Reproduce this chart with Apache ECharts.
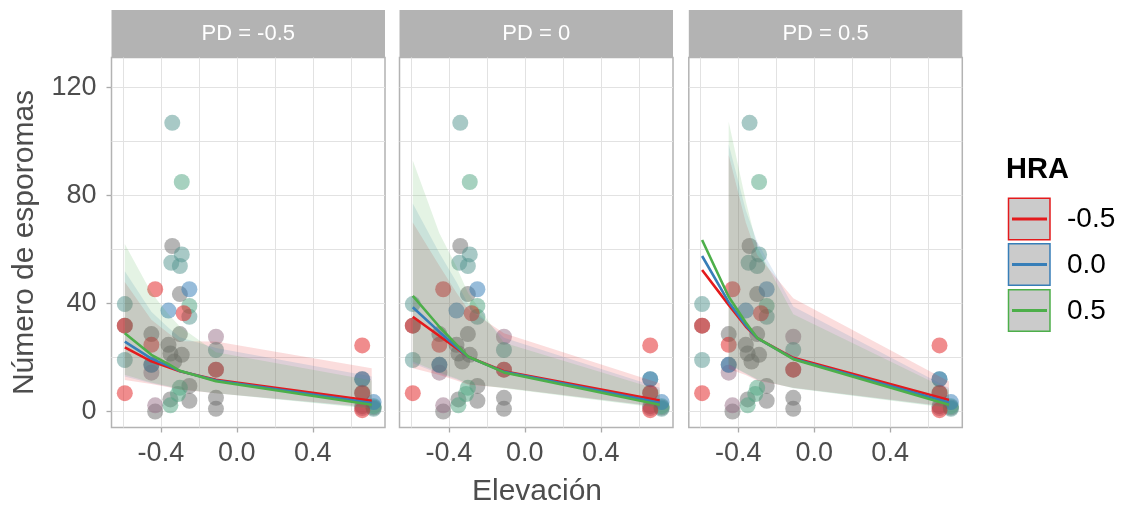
<!DOCTYPE html>
<html>
<head>
<meta charset="utf-8">
<script src="https://cdn.jsdelivr.net/npm/echarts@6/dist/echarts.min.js"></script>
<style>
html, body { margin: 0; padding: 0; background: #fff; }
#main { width: 1123px; height: 508px; }
</style>
</head>
<body>
<div id="main"></div>
<script>
var panels = ['PD = -0.5', 'PD = 0', 'PD = 0.5'];
var hraLevels = ['-0.5', '0.0', '0.5'];
var hraColors = ['#e41a1c', '#377eb8', '#4daf4a'];

var xTicks = [-0.4, 0.0, 0.4];
var xGridVals = [-0.6, -0.4, -0.2, 0, 0.2, 0.4, 0.6];
var yTicks = [0, 40, 80, 120];
var yGridVals = [0, 20, 40, 60, 80, 100, 120];

// raw observations (same in every panel), grouped by colour
var ptsRed = [[-0.59, 31.8], [-0.59, 6.8], [-0.45, 24.7], [-0.43, 45.3], [-0.28, 36.4], [-0.11, 15.5], [0.66, 24.5], [0.66, 6.8], [0.66, 0.5]];
var ptsBlue = [[-0.45, 17.3], [-0.36, 37.4], [-0.25, 45.3], [0.66, 12.0], [0.72, 3.5]];
var ptsTeal = [[-0.59, 39.8], [-0.59, 19.1], [-0.34, 106.9], [-0.29, 58.2], [-0.345, 55.1], [-0.30, 53.9], [-0.25, 35.1], [-0.11, 22.8], [0.66, 12.0], [0.72, 1.0]];
var ptsGreen = [[-0.29, 85.0], [-0.25, 39.1], [-0.30, 8.8], [-0.31, 6.5], [-0.35, 2.3], [0.72, 2.0]];
var ptsGray = [[-0.59, 31.8], [-0.45, 28.7], [-0.45, 17.3], [-0.43, 0.0], [-0.34, 61.3], [-0.36, 24.7], [-0.35, 21.5], [-0.33, 18.5], [-0.30, 43.5], [-0.30, 28.7], [-0.29, 21.0], [-0.25, 9.5], [-0.25, 4.0], [-0.35, 4.5], [-0.11, 5.1], [-0.11, 1.0], [0.66, 7.0], [0.66, 2.0], [0.72, 1.5]];
var ptsMauve = [[-0.45, 14.4], [-0.43, 2.3], [-0.11, 27.7], [-0.11, 15.5], [0.66, 1.3]];

// predicted values at these elevations
var fitX = [-0.59, -0.45, -0.36, -0.30, -0.11, 0.71];

// PD = -0.5 : rows are HRA -0.5, 0.0, 0.5
var fitPD1 = [[23.8, 18.6, 16.4, 14.9, 11.8, 4.0], [25.9, 19.6, 16.9, 15.0, 11.5, 3.2], [29.0, 21.0, 17.6, 15.1, 11.2, 2.5]];
var loPD1 = [[11.7, 10.2, 9.0, 8.2, 6.8, 1.6], [13.0, 10.5, 9.2, 8.3, 6.8, 1.3], [13.6, 10.8, 9.4, 8.4, 6.8, 1.0]];
var hiPD1 = [[48, 34, 29, 26, 25.9, 16], [52, 37, 31, 27.5, 23.5, 13], [62, 44, 36, 31.5, 22, 11.5]];

// PD = 0
var fitPD2 = [[35.1, 28.0, 23.5, 20.3, 14.9, 4.1], [38.6, 29.5, 24.0, 20.3, 14.7, 3.3], [42.8, 31.4, 24.8, 20.4, 14.5, 2.5]];
var loPD2 = [[16, 13.5, 11.5, 10, 8.8, 1.8], [17.9, 14, 12, 10.2, 8.8, 1.6], [18.5, 14.5, 12.2, 10.3, 8.6, 1.3]];
var hiPD2 = [[70, 54, 44, 38, 29, 10.5], [77, 58.7, 48, 40, 27.3, 8.8], [93, 66, 53.6, 44, 25.5, 8]];

// PD = 0.5 (band starts at -0.45)
var fitPD3 = [[52.4, 39.5, 31.5, 27.2, 19.9, 4.3], [57.6, 40.5, 32.0, 27.2, 19.6, 3.4], [63.5, 42.5, 33.0, 27.3, 19.4, 2.5]];
var loPD3 = [[null, 15.8, 13.5, 11.5, 8.8, 1.8], [null, 17.3, 14, 11.8, 8.7, 1.6], [null, 17.5, 14.2, 12, 8.6, 1.3]];
var hiPD3 = [[null, 95, 70, 58, 42, 11.1], [null, 99, 74.5, 62.9, 38.9, 8.7], [null, 107.3, 78, 61, 36, 8]];

var fits = [fitPD1, fitPD2, fitPD3];
var lows = [loPD1, loPD2, loPD3];
var highs = [hiPD1, hiPD2, hiPD3];

var FONT = 'Liberation Sans, Arial, sans-serif';
var panelLeft = [111.5, 399.5, 688.8];
var panelW = 273.5;
var panelTop = 57.5;
var panelH = 370;

function rgba(hex, a) {
    var r = parseInt(hex.substr(1, 2), 16);
    var g = parseInt(hex.substr(3, 2), 16);
    var b = parseInt(hex.substr(5, 2), 16);
    return 'rgba(' + r + ',' + g + ',' + b + ',' + a + ')';
}

var grids = [], xAxes = [], yAxes = [], series = [], graphics = [];

for (var p = 0; p < 3; p++) {
    grids.push({
        left: panelLeft[p], top: panelTop, width: panelW, height: panelH,
        show: true, borderColor: '#b3b3b3', borderWidth: 1.5, backgroundColor: '#fff'
    });
    // axis for grid lines
    xAxes.push({
        type: 'value', gridIndex: p, min: -0.66, max: 0.78, position: 'bottom',
        axisLine: { show: false, onZero: false }, axisLabel: { show: false },
        axisTick: { show: false, customValues: xGridVals },
        splitLine: { show: true, lineStyle: { color: '#e2e2e2', width: 1 } }
    });
    // axis for ticks + labels
    xAxes.push({
        type: 'value', gridIndex: p, min: -0.66, max: 0.78, position: 'bottom',
        axisLine: { show: false, onZero: false },
        axisTick: { show: true, length: 5, customValues: xTicks, lineStyle: { color: '#aaaaaa', width: 1.3 } },
        axisLabel: {
            show: true, customValues: xTicks, margin: 13, fontSize: 27, color: '#4d4d4d', fontFamily: FONT,
            formatter: function (v) { return v.toFixed(1); }
        },
        splitLine: { show: false }
    });
    yAxes.push({
        type: 'value', gridIndex: p, min: -5.9, max: 131.1, position: 'left',
        axisLine: { show: false, onZero: false }, axisLabel: { show: false },
        axisTick: { show: false, customValues: yGridVals },
        splitLine: { show: true, lineStyle: { color: '#e2e2e2', width: 1 } }
    });

    // strip
    graphics.push({
        type: 'rect', left: panelLeft[p], top: 10, shape: { width: panelW, height: 47.5 },
        style: { fill: '#b3b3b3' }
    });
    graphics.push({
        type: 'text', x: panelLeft[p] + panelW / 2, y: 34,
        style: { text: panels[p], fill: '#ffffff', font: '22px ' + FONT, textAlign: 'center', textVerticalAlign: 'middle' }
    });
}

// y labels only on the first panel
yAxes.push({
    type: 'value', gridIndex: 0, min: -5.9, max: 131.1, position: 'left',
    axisLine: { show: false, onZero: false },
    axisTick: { show: true, length: 5, customValues: yTicks, lineStyle: { color: '#aaaaaa', width: 1.3 } },
    axisLabel: { show: true, customValues: yTicks, margin: 15, fontSize: 27, color: '#4d4d4d', fontFamily: FONT },
    splitLine: { show: false }
});

function ribbon(p, h) {
    var rows = [];
    for (var i = 0; i < fitX.length; i++) {
        if (lows[p][h][i] != null) rows.push([fitX[i], lows[p][h][i], highs[p][h][i]]);
    }
    return {
        type: 'custom', xAxisIndex: p * 2, yAxisIndex: p, data: rows, silent: true, z: 3,
        encode: { x: 0, y: [1, 2] },
        renderItem: function (params, api) {
            if (params.dataIndex !== 0) return;
            var pts = [];
            for (var i = 0; i < rows.length; i++) pts.push(api.coord([rows[i][0], rows[i][2]]));
            for (var j = rows.length - 1; j >= 0; j--) pts.push(api.coord([rows[j][0], rows[j][1]]));
            return { type: 'polygon', shape: { points: pts }, style: { fill: rgba(hraColors[h], 0.15) } };
        }
    };
}

var pointGroups = [
    [ptsGray, '#6b6b6b'],
    [ptsMauve, '#977088'],
    [ptsTeal, '#51938d'],
    [ptsGreen, '#4da37f'],
    [ptsBlue, '#2f7ab5'],
    [ptsRed, '#e11a1c']
];

for (var p = 0; p < 3; p++) {
    for (var g = 0; g < pointGroups.length; g++) {
        series.push({
            type: 'scatter', xAxisIndex: p * 2, yAxisIndex: p, data: pointGroups[g][0],
            symbol: 'circle', symbolSize: 16, silent: true, z: 2,
            itemStyle: { color: pointGroups[g][1], opacity: 0.5 }
        });
    }
    for (var h = 0; h < 3; h++) series.push(ribbon(p, h));
    for (var h = 0; h < 3; h++) {
        var line = [];
        for (var i = 0; i < fitX.length; i++) line.push([fitX[i], fits[p][h][i]]);
        series.push({
            type: 'line', xAxisIndex: p * 2, yAxisIndex: p, data: line, showSymbol: false, silent: true, z: 4,
            lineStyle: { color: hraColors[h], width: 2.6 }
        });
    }
}

// axis titles
graphics.push({
    type: 'text', x: 537, y: 492,
    style: { text: 'Elevación', fill: '#4d4d4d', font: '30px ' + FONT, textAlign: 'center', textVerticalAlign: 'middle' }
});
graphics.push({
    type: 'text', x: 25, y: 242.5, rotation: Math.PI / 2,
    style: { text: 'Número de esporomas', fill: '#4d4d4d', font: '30px ' + FONT, textAlign: 'center', textVerticalAlign: 'middle' }
});

// legend
graphics.push({
    type: 'text', x: 1006, y: 170,
    style: { text: 'HRA', fill: '#000', font: 'bold 29px ' + FONT, textAlign: 'left', textVerticalAlign: 'middle' }
});
var keyTop = [197.5, 243, 289];
for (var h = 0; h < 3; h++) {
    graphics.push({
        type: 'rect', shape: { x: 1008.5, y: keyTop[h] + 0.75, width: 41.5, height: 41.5 },
        style: { fill: '#cbcbcb', stroke: hraColors[h], lineWidth: 1.5 }
    });
    graphics.push({
        type: 'line', shape: { x1: 1012, y1: keyTop[h] + 21.5, x2: 1047, y2: keyTop[h] + 21.5 },
        style: { stroke: hraColors[h], lineWidth: 3 }
    });
    graphics.push({
        type: 'text', x: 1067, y: keyTop[h] + 22,
        style: { text: hraLevels[h], fill: '#000', font: '28px ' + FONT, textAlign: 'left', textVerticalAlign: 'middle' }
    });
}

var myChart = echarts.init(document.getElementById('main'), null, { renderer: 'canvas' });
myChart.setOption({
    animation: false,
    backgroundColor: '#ffffff',
    grid: grids,
    xAxis: xAxes,
    yAxis: yAxes,
    series: series,
    graphic: graphics
});
</script>
</body>
</html>
